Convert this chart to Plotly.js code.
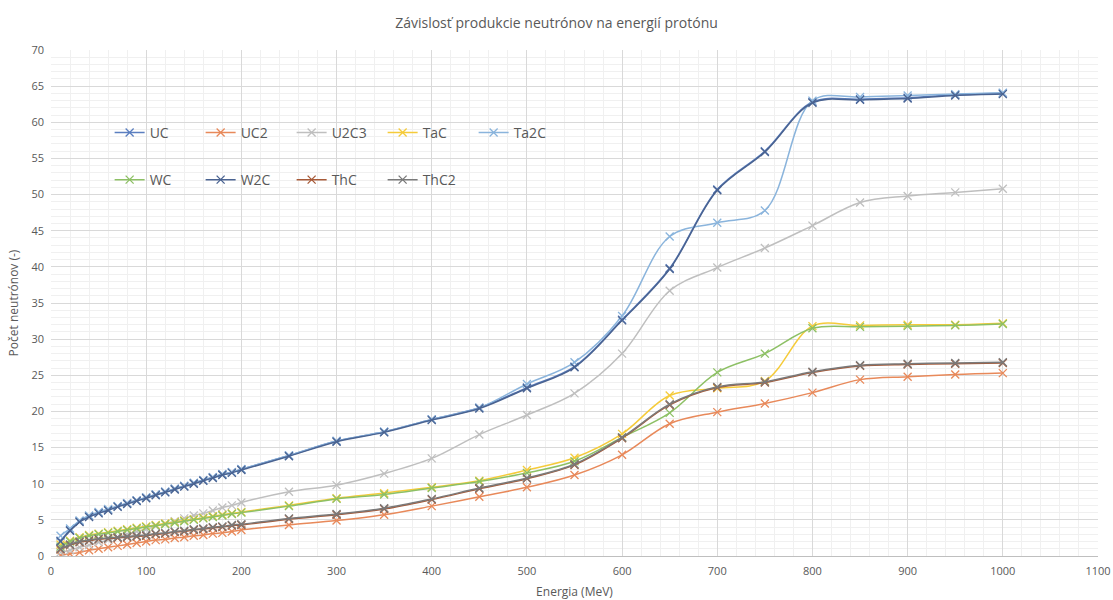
<!DOCTYPE html>
<html><head><meta charset="utf-8">
<script src="https://cdn.plot.ly/plotly-3.0.1.min.js"></script>
<style>body{margin:0;background:#fff}</style></head>
<body><div id="chart" style="width:1113px;height:600px"></div>
<script>
const energy = [10,20,30,40,50,60,70,80,90,100,110,120,130,140,150,160,170,180,190,200,
  250,300,350,400,450,500,550,600,650,700,750,800,850,900,950,1000];

const seriesNames = ["UC","UC2","U2C3","TaC","Ta2C","WC","W2C","ThC","ThC2"];

const UC   = [2.1,3.6,4.8,5.5,6.0,6.4,6.9,7.3,7.7,8.1,8.5,8.9,9.3,9.7,10.1,10.5,10.9,11.3,11.6,12.0,
  13.9,15.9,17.2,18.9,20.5,23.3,26.2,32.7,39.8,50.7,56.0,62.8,63.2,63.4,63.8,64.0];
const UC2  = [0.1,0.3,0.5,0.8,1.0,1.2,1.4,1.6,1.8,2.0,2.2,2.3,2.5,2.6,2.8,2.9,3.1,3.2,3.4,3.6,
  4.3,4.9,5.7,6.9,8.2,9.5,11.2,14.0,18.3,19.9,21.1,22.6,24.4,24.8,25.1,25.3];
const U2C3 = [0.5,0.8,1.2,1.5,1.9,2.2,2.6,3.0,3.4,3.7,4.1,4.5,4.8,5.2,5.6,5.9,6.3,6.7,7.0,7.4,
  8.9,9.8,11.4,13.5,16.8,19.5,22.5,28.0,36.7,39.9,42.6,45.7,48.9,49.8,50.3,50.8];
const TaC  = [1.6,2.1,2.6,2.9,3.1,3.3,3.5,3.7,3.9,4.1,4.3,4.5,4.7,4.9,5.1,5.3,5.5,5.7,5.9,6.1,
  7.0,8.0,8.7,9.5,10.4,11.9,13.6,16.9,22.2,23.2,24.2,31.8,31.9,32.0,32.0,32.2];
const Ta2C = [2.8,3.8,4.9,5.6,6.1,6.5,6.9,7.3,7.7,8.1,8.5,8.9,9.3,9.7,10.1,10.5,10.9,11.3,11.6,12.0,
  13.9,15.9,17.2,18.9,20.5,23.8,26.8,33.2,44.2,46.1,47.8,63.0,63.5,63.7,63.9,64.1];
const WC   = [1.3,2.0,2.5,2.8,3.0,3.2,3.4,3.6,3.8,4.0,4.2,4.4,4.6,4.8,5.0,5.2,5.4,5.6,5.8,6.0,
  6.9,7.9,8.5,9.4,10.3,11.5,13.1,16.4,19.8,25.4,28.0,31.5,31.7,31.8,31.9,32.1];
const W2C  = [2.0,3.5,4.7,5.4,5.9,6.3,6.8,7.2,7.6,8.0,8.4,8.8,9.2,9.6,10.0,10.4,10.8,11.2,11.5,11.9,
  13.8,15.8,17.1,18.8,20.4,23.2,26.1,32.6,39.7,50.6,55.9,62.7,63.1,63.3,63.7,63.9];
const ThC  = [0.9,1.5,1.9,2.1,2.3,2.4,2.5,2.6,2.7,2.8,3.0,3.1,3.3,3.4,3.6,3.7,3.9,4.0,4.2,4.3,
  5.1,5.7,6.5,7.8,9.3,10.7,12.6,16.3,20.9,23.3,24.0,25.4,26.3,26.5,26.6,26.7];
const ThC2 = [1.0,1.6,2.0,2.2,2.4,2.5,2.6,2.7,2.8,2.9,3.1,3.2,3.4,3.5,3.7,3.8,4.0,4.1,4.3,4.4,
  5.2,5.8,6.6,7.9,9.4,10.8,12.7,16.4,21.0,23.4,24.1,25.5,26.4,26.6,26.7,26.8];

const seriesValues = [UC,UC2,U2C3,TaC,Ta2C,WC,W2C,ThC,ThC2];
const seriesColors = ["#5b7fc0","#e8895a","#bfbfbf","#f5cb3a","#8ab4dc","#8dc065","#4a6391","#a75a38","#7a7a7a"];

const traces = seriesNames.map((name, i) => ({
  type: "scatter",
  mode: "lines+markers",
  name: name,
  x: energy,
  y: seriesValues[i],
  line: {color: seriesColors[i], width: 1.5, shape: "spline", smoothing: 1},
  marker: {symbol: "x-thin", size: 8, color: seriesColors[i], line: {color: seriesColors[i], width: 1.3}},
  legend: i < 5 ? "legend" : "legend2"
}));

const txt = "#595959";
const legendBase = {
  orientation: "h",
  bgcolor: "rgba(0,0,0,0)",
  font: {family: "Open Sans, sans-serif", size: 14, color: txt},
  entrywidth: 46,
  entrywidthmode: "pixels",
  xanchor: "left", yanchor: "middle",
  itemclick: false
};

const layout = {
  width: 1113, height: 600,
  margin: {l: 51, r: 15, t: 50, b: 44},
  paper_bgcolor: "#fff", plot_bgcolor: "#fff",
  title: {text: "Závislosť produkcie neutrónov na energií protónu",
    font: {family: "Open Sans, sans-serif", size: 14, color: txt}, x: 0.5, xanchor: "center", y: 0.962, yanchor: "middle"},
  xaxis: {
    range: [0, 1100], dtick: 100, tick0: 0,
    showgrid: true, gridcolor: "#d9d9d9", gridwidth: 1,
    minor: {dtick: 20, showgrid: true, gridcolor: "#f0f0f0", gridwidth: 1},
    zeroline: false, showline: true, linecolor: "#bfbfbf", linewidth: 1,
    ticks: "", ticklabelstandoff: 5,
    tickfont: {family: "Open Sans, sans-serif", size: 11, color: txt},
    title: {text: "Energia (MeV)", font: {family: "Open Sans, sans-serif", size: 12, color: txt}, standoff: 10}
  },
  yaxis: {
    range: [0, 70], dtick: 5, tick0: 0,
    showgrid: true, gridcolor: "#d9d9d9", gridwidth: 1,
    minor: {dtick: 1, showgrid: true, gridcolor: "#f0f0f0", gridwidth: 1},
    zeroline: false, showline: false,
    ticks: "", ticklabelstandoff: 6,
    tickfont: {family: "Open Sans, sans-serif", size: 11, color: txt},
    title: {text: "Počet neutrónov (-)", font: {family: "Open Sans, sans-serif", size: 12, color: txt}, standoff: 10}
  },
  legend: Object.assign({}, legendBase, {x: 0.056, y: 0.836}),
  legend2: Object.assign({}, legendBase, {x: 0.056, y: 0.743})
};

Plotly.newPlot("chart", traces, layout, {displayModeBar: false, staticPlot: true});
</script>
</body></html>
